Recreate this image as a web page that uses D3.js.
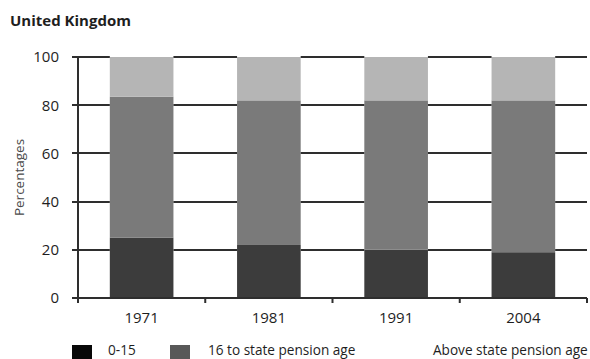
<!DOCTYPE html>
<html>
<head>
<meta charset="utf-8">
<script src="https://cdn.jsdelivr.net/npm/d3@7"></script>
<style>
  html, body { margin: 0; padding: 0; background: #fff; }
  svg { display: block; font-family: "Open Sans", "Noto Sans", sans-serif; }
</style>
</head>
<body>
<svg id="chart" width="590" height="359"></svg>
<script>
// Population by age group, United Kingdom (percentages)
const years = ["1971", "1981", "1991", "2004"];
const age0to15 = [25, 22, 20, 19];
const age16toSPA = [58.5, 60, 62, 63];
const aboveSPA = [16.5, 18, 18, 18];
const seriesNames = ["0-15", "16 to state pension age", "Above state pension age"];
const yTicks = [0, 20, 40, 60, 80, 100];

const barColors = ["#3c3c3c", "#7a7a7a", "#b5b5b5"];
const legendColors = ["#080808", "#585858", "#ffffff"];
const ruleColor = "#2e2e2e";

const svg = d3.select("#chart");
const W = 590, H = 359;
const margin = { left: 78, right: 3, top: 57, bottom: 61 };

const rows = years.map((yr, i) => ({
  year: yr,
  "0-15": age0to15[i],
  "16 to state pension age": age16toSPA[i],
  "Above state pension age": aboveSPA[i]
}));
const stacked = d3.stack().keys(seriesNames)(rows);

const x = d3.scaleBand().domain(years)
  .range([margin.left, W - margin.right]).paddingInner(0.5).paddingOuter(0.25);
const y = d3.scaleLinear().domain([0, 100]).range([H - margin.bottom, margin.top]);

// Title
svg.append("text").attr("x", 10).attr("y", 26)
  .attr("font-size", 15).attr("font-weight", "bold").attr("fill", "#1e1e1e")
  .text("United Kingdom");

// Stacked bars
svg.append("g").selectAll("g").data(stacked).join("g")
  .attr("fill", (d, i) => barColors[i])
  .selectAll("rect").data(d => d).join("rect")
  .attr("x", d => x(d.data.year))
  .attr("width", x.bandwidth())
  .attr("y", d => y(d[1]))
  .attr("height", d => y(d[0]) - y(d[1]));

// Gridline segments in the gaps between bars
const gaps = [[margin.left, x(years[0])]]
  .concat(years.slice(1).map((yr, i) => [x(years[i]) + x.bandwidth(), x(yr)]))
  .concat([[x(years[years.length - 1]) + x.bandwidth(), W - margin.right]]);
const segs = [];
yTicks.filter(d => d > 0).forEach(t => gaps.forEach(g => segs.push({ t, x1: g[0], x2: g[1] })));
svg.append("g").selectAll("rect").data(segs).join("rect")
  .attr("x", d => d.x1).attr("width", d => d.x2 - d.x1)
  .attr("y", d => Math.round(y(d.t)) - 1).attr("height", 2)
  .attr("fill", ruleColor);

// Y axis: line, ticks and labels
const yAxis = svg.append("g");
yAxis.append("rect").attr("x", margin.left - 1).attr("width", 2)
  .attr("y", y(100) - 1).attr("height", y(0) - y(100) + 5).attr("fill", ruleColor);
yAxis.selectAll("rect.tk").data(yTicks).join("rect").attr("class", "tk")
  .attr("x", margin.left - 6).attr("width", 6)
  .attr("y", d => Math.round(y(d)) - 1).attr("height", 2).attr("fill", ruleColor);
yAxis.selectAll("text").data(yTicks).join("text")
  .attr("x", margin.left - 19).attr("y", d => y(d)).attr("dy", "0.36em")
  .attr("text-anchor", "end").attr("font-size", 15).attr("fill", "#1e1e1e")
  .text(d => d);

// X axis with ticks at the category boundaries
const xAxis = svg.append("g");
const y0 = Math.round(y(0));
xAxis.append("rect").attr("x", margin.left).attr("width", W - margin.right - margin.left)
  .attr("y", y0 - 1).attr("height", 2).attr("fill", ruleColor);
const step = x.step();
xAxis.selectAll("rect.tk").data(d3.range(years.length + 1)).join("rect").attr("class", "tk")
  .attr("x", i => margin.left + i * step - 1).attr("width", 2)
  .attr("y", y0).attr("height", 5).attr("fill", ruleColor);
xAxis.selectAll("text").data(years).join("text")
  .attr("x", d => x(d) + x.bandwidth() / 2).attr("y", y0 + 25)
  .attr("text-anchor", "middle").attr("font-size", 15).attr("fill", "#1e1e1e")
  .text(d => d);

// Y axis title
svg.append("text")
  .attr("transform", `translate(24,${(y(0) + y(100)) / 2}) rotate(-90)`)
  .attr("text-anchor", "middle").attr("font-size", 13.5).attr("fill", "#4a4a4a")
  .text("Percentages");

// Legend
const legendItems = [
  { sx: 72, tx: 108 },
  { sx: 170, tx: 208 },
  { sx: 395, tx: 433 }
];
const lg = svg.append("g");
legendItems.forEach((p, i) => {
  lg.append("rect").attr("x", p.sx).attr("y", 345).attr("width", 20).attr("height", 14)
    .attr("fill", legendColors[i]);
  lg.append("text").attr("x", p.tx).attr("y", 355).attr("font-size", 13.6).attr("fill", "#1e1e1e")
    .text(seriesNames[i]);
});
</script>
</body>
</html>
